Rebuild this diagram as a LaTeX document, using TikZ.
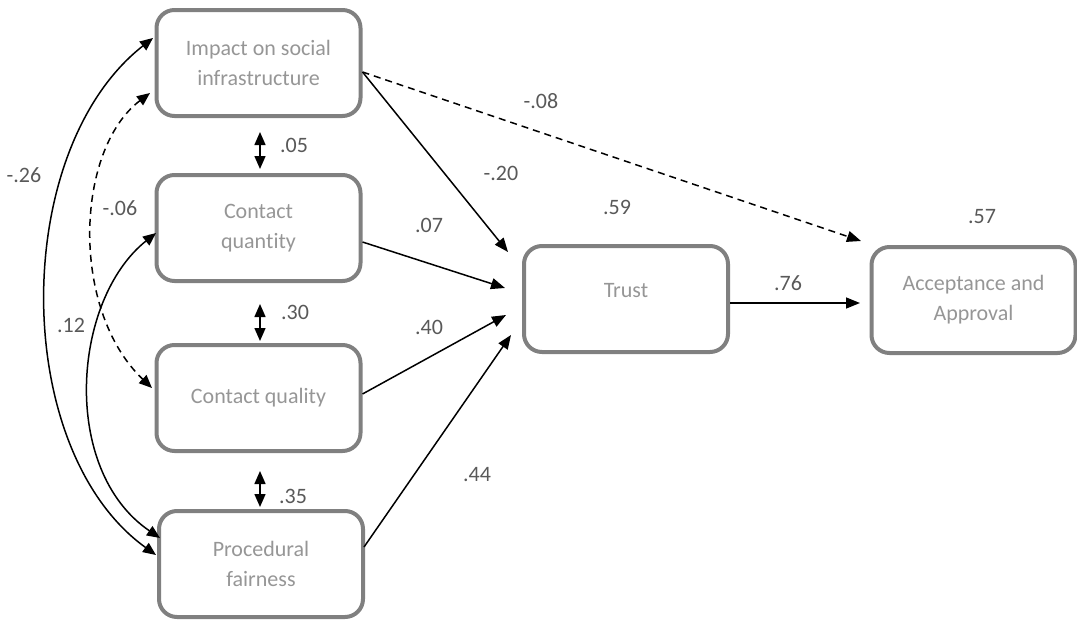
\documentclass[tikz,border=0pt]{standalone}
\usepackage{fontspec}
\setmainfont{Carlito}[Ligatures={NoCommon,NoRare,NoContextual},Contextuals={NoAlternate}]
\usetikzlibrary{arrows.meta}
\definecolor{boxline}{RGB}{128,128,128}
\definecolor{boxtext}{RGB}{150,150,150}
\definecolor{coef}{RGB}{89,89,89}

\begin{document}
\begin{tikzpicture}[x=1pt,y=-1pt,
  var/.style={draw=boxline, line width=4pt, rounded corners=18pt,
    minimum width=204pt, minimum height=106pt, inner sep=0pt,
    text=boxtext, align=center, font=\fontsize{22}{30}\selectfont},
  coeff/.style={text=coef, inner sep=0pt, font=\fontsize{22}{26}\selectfont},
  reg/.style={line width=1.5pt, -{Triangle[length=14pt,width=11pt]}},
  cov/.style={line width=1.5pt,
    {Triangle[length=13pt,width=11pt]}-{Triangle[length=13pt,width=11pt]}},
  ns/.style={dash pattern=on 7pt off 5pt}]
\useasboundingbox (0,0) rectangle (1077,621);

% latent variables (the kern keeps "t" and "i" as separate glyphs)
\node[var] (imp)   at (258.5,63)  {Impact on social\\infrastructure};
\node[var] (cqn)   at (258.5,228) {Contact\\quan\kern0pt tity};
\node[var] (cql)   at (258.5,398) {Contact quality};
\node[var] (proc)  at (261,564)   {Procedural\\fairness};
\node[var] (trust) at (626,299)   {\raisebox{2pt}[0pt][0pt]{Trust}};
\node[var] (acc)   at (973.5,300) {Acceptance and\\Approval};

% regression paths
\draw[reg] ([shift={(0,9)}]imp.east) -- ([shift={(-14,-47)}]trust.west);
\draw[reg,ns] ([shift={(0,9)}]imp.east) -- ([shift={(-8.5,-4)}]acc.north west);
\draw[reg] ([shift={(0,14)}]cqn.east) -- ([shift={(-17,-11)}]trust.west);
\draw[reg] ([shift={(0,-4)}]cql.east) -- ([shift={(-16,16)}]trust.west);
\draw[reg] ([shift={(-1,-17)}]proc.east) -- ([shift={(-11,36)}]trust.west);
\draw[reg] ([shift={(0,4)}]trust.east) -- ([shift={(-9.5,3)}]acc.west);

% covariances between neighbouring predictors
\draw[cov] ([shift={(1.5,14)}]imp.south) -- ([shift={(1.5,-4)}]cqn.north);
\draw[cov] ([shift={(1.5,21)}]cqn.south) -- ([shift={(1.5,-2)}]cql.north);
\draw[cov] ([shift={(1.5,18)}]cql.south) -- ([shift={(-1,-2)}]proc.north);

% covariances drawn as arcs on the left
\draw[cov] ([shift={(-1.5,-25)}]imp.west) .. controls (10,150) and (10,450) .. ([shift={(-1,-9)}]proc.west);
\draw[cov] ([shift={(1.5,5)}]cqn.west) .. controls (72,300) and (60,470) .. ([shift={(3,-26)}]proc.west);
\draw[cov,ns] ([shift={(-4.5,30)}]imp.west) .. controls (75,150) and (70,310) .. ([shift={(-2.5,-10)}]cql.west);

% coefficients
\node[coeff] (l05) at (294,145) {.05};
\node[coeff] (l26) at (24,175)  {-.26};
\node[coeff] (l06) at (120,208) {-.06};
\node[coeff] (l30) at (295,312) {.30};
\node[coeff] (l12) at (71,325)  {.12};
\node[coeff] (l35) at (293,496) {.35};
\node[coeff] (l08) at (541,101) {-.08};
\node[coeff] (l20) at (501,173) {-.20};
\node[coeff] (l59) at (617,207) {.59};
\node[coeff] (l07) at (429,225) {.07};
\node[coeff] (l40) at (429,327) {.40};
\node[coeff] (l44) at (477,475) {.44};
\node[coeff] (l76) at (788,283) {.76};
\node[coeff] (l57) at (982,217) {.57};
\end{tikzpicture}
\end{document}
